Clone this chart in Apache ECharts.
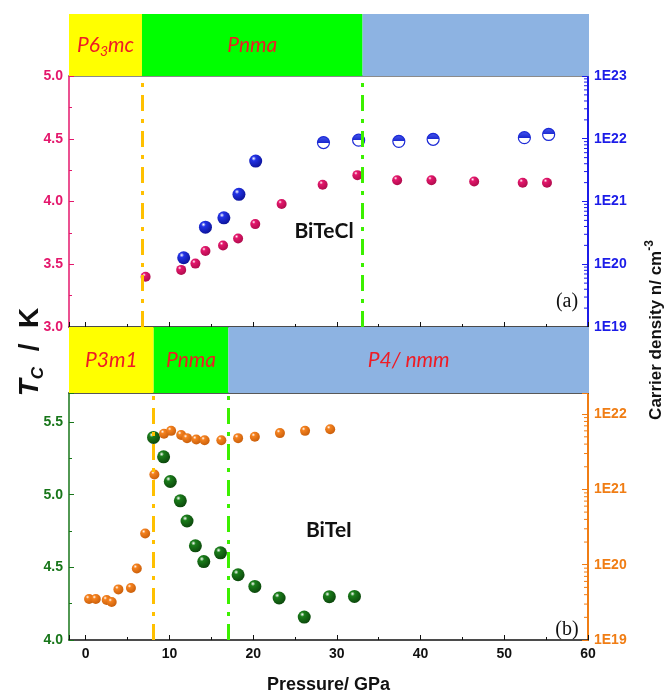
<!DOCTYPE html>
<html>
<head>
<meta charset="utf-8">
<script src="https://cdn.jsdelivr.net/npm/echarts@6/dist/echarts.min.js"></script>
<style>
html, body { margin: 0; padding: 0; background: #fff; }
#main { width: 668px; height: 695px; }
</style>
</head>
<body>
<div id="main"></div>
<script>
var chartDom = document.getElementById('main');
var myChart = echarts.init(chartDom);

// (a) BiTeCl
var clTcP = [7.15, 11.4, 13.1, 14.3, 16.4, 18.2, 20.25, 23.4, 28.3, 32.45, 37.2, 41.3, 46.4, 52.2, 55.1];
var clTc = [3.40, 3.455, 3.505, 3.605, 3.65, 3.705, 3.82, 3.98, 4.134, 4.21, 4.17, 4.17, 4.16, 4.15, 4.15];
var clNP = [11.7, 14.3, 16.5, 18.3, 20.3]; // 实心点
var clN = [1.27e20, 3.9e20, 5.5e20, 1.3e21, 4.4e21];
var clNHalfP = [28.4, 32.6, 37.4, 41.5, 52.4, 55.3]; // 半填充点
var clNHalf = [8.7e21, 9.5e21, 9.1e21, 9.8e21, 1.04e22, 1.17e22];
var clPhaseEdges = [-2, 6.7, 33, 60];
var clPhaseNames = ['{i|P6}{s|3}{i|mc}', '{i|Pnma}', ''];
var clLines = [6.7, 33];

// (b) BiTeI
var iTcP = [8.1, 9.3, 10.1, 11.3, 12.1, 13.1, 14.1, 16.1, 18.2, 20.2, 23.1, 26.1, 29.1, 32.1];
var iTc = [5.394, 5.261, 5.091, 4.958, 4.819, 4.648, 4.54, 4.6, 4.449, 4.369, 4.289, 4.158, 4.298, 4.30];
var iNP = [0.4, 1.2, 2.5, 3.1, 3.9, 5.4, 6.1, 7.1, 8.2, 9.35, 10.2, 11.4, 12.1, 13.2, 14.2, 16.2, 18.2, 20.2, 23.2, 26.2, 29.2];
var iN = [3.5e19, 3.5e19, 3.4e19, 3.2e19, 4.7e19, 4.9e19, 8.9e19, 2.6e20, 1.58e21, 5.5e21, 6.0e21, 5.3e21, 4.8e21,
    4.6e21, 4.5e21, 4.5e21, 4.8e21, 5.0e21, 5.6e21, 6.0e21, 6.3e21];
var iPhaseEdges = [-2, 8.1, 17, 60];
var iPhaseNames = ['{i|P3m1}', '{i|Pnma}', '{i|P4/ nmm}'];
var iLines = [8.1, 17];

var phaseColors = ['#ffff00', '#00ff00', '#8db3e2'];
var lineColors = ['#ffc000', '#3cf000'];

var pink = '#e4176c', blue = '#1c1ce8', green = '#18761a', orange = '#f07d14';

function zip(xs, ys) { //合并为点
    return xs.map(function(x, i) { return [x, ys[i]]; });
}

function ball(base, dark) { //球形渐变
    return {
        type: 'radial', x: 0.35, y: 0.3, r: 0.8,
        colorStops: [{ offset: 0, color: '#ffffff' }, { offset: 0.22, color: base }, { offset: 1, color: dark }]
    };
}

function phaseAreas(edges, names) { //相区色块
    var res = [];
    for (var i = 0; i < names.length; i++) {
        res.push([{
            xAxis: edges[i],
            itemStyle: { color: phaseColors[i] },
            label: { formatter: names[i] || ' ' }
        }, { xAxis: edges[i + 1] }]);
    }
    return res;
}

function transLines(xs) { //相变虚线
    return xs.map(function(x, i) {
        return { xAxis: x, lineStyle: { color: lineColors[i] } };
    });
}

function logMinor(maxV) { //对数次刻度
    var out = [];
    for (var d = 19; d < 23; d++) {
        for (var k = 2; k < 10; k++) {
            var v = k * Math.pow(10, d);
            if (v < maxV) out.push([60, v]);
        }
    }
    return out;
}

function minorSeries(xi, yi, maxV, color) {
    return {
        type: 'custom', xAxisIndex: xi, yAxisIndex: yi, silent: true, z: 5,
        data: logMinor(maxV),
        renderItem: function(params, api) {
            var p = api.coord([api.value(0), api.value(1)]);
            return {
                type: 'line',
                shape: { x1: p[0] - 4, y1: p[1], x2: p[0], y2: p[1] },
                style: { stroke: color, lineWidth: 1 }
            };
        }
    };
}

function expLabel(v) {
    var e = Math.log10(v);
    if (Math.abs(e - Math.round(e)) > 0.01) return '';
    return '1E' + Math.round(e);
}

var tickFont = { fontFamily: 'Liberation Sans', fontWeight: 'bold', fontSize: 14 };
var phaseRich = {
    i: { fontFamily: 'Lato', fontStyle: 'italic', fontSize: 21, color: '#ee1c25', lineHeight: 26 },
    s: { fontFamily: 'Lato', fontStyle: 'italic', fontSize: 14, color: '#ee1c25', lineHeight: 14, verticalAlign: 'bottom' }
};

function leftAxis(grid, color, min, max) {
    return {
        type: 'value', gridIndex: grid, position: 'left', min: min, max: max, interval: 0.5,
        axisLine: { show: true, onZero: false, lineStyle: { color: color, width: 1.5 } },
        axisTick: { inside: true, length: 5, lineStyle: { color: color } },
        minorTick: { show: true, splitNumber: 2, length: 3, lineStyle: { color: color } },
        splitLine: { show: false },
        axisLabel: Object.assign({ color: color, margin: 6, showMaxLabel: max === 5, formatter: function(v) { return v.toFixed(1); } }, tickFont)
    };
}

function rightAxis(grid, color, max) {
    return {
        type: 'log', logBase: 10, gridIndex: grid, position: 'right', min: 1e19, max: max,
        axisLine: { show: true, onZero: false, lineStyle: { color: color, width: 2 } },
        axisTick: { inside: true, length: 6, lineStyle: { color: color } },
        splitLine: { show: false },
        axisLabel: Object.assign({ color: color, margin: 6, formatter: expLabel }, tickFont)
    };
}

function bottomAxis(grid, showLabel) {
    return {
        type: 'value', gridIndex: grid, position: 'bottom', min: -2, max: 60,
        axisLine: { show: true, onZero: false, lineStyle: { color: '#111', width: 1.5 } },
        axisTick: { inside: true, length: 5, lineStyle: { color: '#111' } },
        minorTick: { show: true, splitNumber: 2, length: 3, lineStyle: { color: '#111' } },
        splitLine: { show: false },
        axisLabel: Object.assign({ show: showLabel, color: '#111', margin: 7, showMinLabel: false }, tickFont),
        name: showLabel ? 'Pressure/ GPa' : '',
        nameLocation: 'middle', nameGap: 36,
        nameTextStyle: { fontFamily: 'Liberation Sans', fontWeight: 'bold', fontSize: 18, color: '#111' }
    };
}

function topAxis(grid, color) {
    return {
        type: 'value', gridIndex: grid, position: 'top', min: -2, max: 60,
        axisLine: { show: true, onZero: false, lineStyle: { color: color, width: 1.5 } },
        axisTick: { show: false }, axisLabel: { show: false }, splitLine: { show: false }
    };
}

function hiddenX(grid) {
    return { type: 'value', gridIndex: grid, min: -2, max: 60, show: false };
}

function hiddenY(grid) {
    return { type: 'value', gridIndex: grid, min: 0, max: 1, show: false };
}

var option = {
    animation: false,
    grid: [
        { left: 69, right: 80, top: 76, height: 251 },
        { left: 69, right: 80, top: 393, height: 256 },
        { left: 69, right: 79, top: 14, height: 62 },
        { left: 69, right: 79, top: 327, height: 66 }
    ],
    xAxis: [
        bottomAxis(0, false), topAxis(0, '#666'),
        bottomAxis(1, true), topAxis(1, '#222'),
        hiddenX(2), hiddenX(3)
    ],
    yAxis: [
        leftAxis(0, pink, 3, 5), rightAxis(0, blue, 1e23),
        leftAxis(1, green, 4, 5.7), rightAxis(1, orange, 1.91e22),
        hiddenY(2), hiddenY(3)
    ],
    series: [
        { // 相区 (a)
            type: 'scatter', xAxisIndex: 4, yAxisIndex: 4, data: [], silent: true,
            markArea: { silent: true, label: { position: 'inside', rich: phaseRich }, data: phaseAreas(clPhaseEdges, clPhaseNames) }
        },
        { // 相区 (b)
            type: 'scatter', xAxisIndex: 5, yAxisIndex: 5, data: [], silent: true,
            markArea: { silent: true, label: { position: 'inside', rich: phaseRich }, data: phaseAreas(iPhaseEdges, iPhaseNames) }
        },
        { // 相变线 (a)
            type: 'scatter', xAxisIndex: 0, yAxisIndex: 0, data: [], z: 1, silent: true,
            markLine: { symbol: 'none', silent: true, label: { show: false }, lineStyle: { width: 3, type: [16, 8, 4, 8], opacity: 1 }, data: transLines(clLines) }
        },
        { // 相变线 (b)
            type: 'scatter', xAxisIndex: 2, yAxisIndex: 2, data: [], z: 1, silent: true,
            markLine: { symbol: 'none', silent: true, label: { show: false }, lineStyle: { width: 3, type: [16, 8, 4, 8], opacity: 1 }, data: transLines(iLines) }
        },
        {
            name: 'BiTeCl Tc', type: 'scatter', xAxisIndex: 0, yAxisIndex: 0, z: 3,
            symbolSize: 10, itemStyle: { color: ball(pink, '#a80a48'), opacity: 1 },
            data: zip(clTcP, clTc)
        },
        {
            name: 'BiTeCl n', type: 'scatter', xAxisIndex: 0, yAxisIndex: 1, z: 3,
            symbolSize: 13, itemStyle: { color: ball('#2233e6', '#0a0f90'), opacity: 1 },
            data: zip(clNP, clN)
        },
        {
            name: 'BiTeCl n half', type: 'scatter', xAxisIndex: 0, yAxisIndex: 1, z: 3,
            symbolSize: 12,
            itemStyle: {
                opacity: 1, borderColor: '#1c2ad6', borderWidth: 1.2,
                color: {
                    type: 'linear', x: 0, y: 0, x2: 0, y2: 1,
                    colorStops: [{ offset: 0, color: '#4a5cf0' }, { offset: 0.5, color: '#1a28d0' }, { offset: 0.5, color: '#ffffff' }, { offset: 1, color: '#ffffff' }]
                }
            },
            data: zip(clNHalfP, clNHalf)
        },
        {
            name: 'BiTeI Tc', type: 'scatter', xAxisIndex: 2, yAxisIndex: 2, z: 3,
            symbolSize: 13, itemStyle: { color: ball('#1a7d1a', '#0a400a'), opacity: 1 },
            data: zip(iTcP, iTc)
        },
        {
            name: 'BiTeI n', type: 'scatter', xAxisIndex: 2, yAxisIndex: 3, z: 3,
            symbolSize: 10, itemStyle: { color: ball('#f5821f', '#c45a08'), opacity: 1 },
            data: zip(iNP, iN)
        },
        minorSeries(0, 1, 1e23, blue),
        minorSeries(2, 3, 1.91e22, orange)
    ],
    graphic: [
        { type: 'text', x: 324, y: 231, style: { text: 'BiTeCl', font: 'bold 21px Lato', fill: '#111', align: 'center', verticalAlign: 'middle' } },
        { type: 'text', x: 329, y: 530, style: { text: 'BiTeI', font: 'bold 21px Lato', fill: '#111', align: 'center', verticalAlign: 'middle' } },
        { type: 'text', x: 567, y: 302, style: { text: '(a)', font: '20px "Liberation Serif"', fill: '#111', align: 'center', verticalAlign: 'middle' } },
        { type: 'text', x: 567, y: 630, style: { text: '(b)', font: '20px "Liberation Serif"', fill: '#111', align: 'center', verticalAlign: 'middle' } },
        {
            type: 'text', x: 30, y: 352, rotation: Math.PI / 2,
            style: {
                text: '{t|T}{c|C}{n|  /  K}', align: 'center', verticalAlign: 'middle', fill: '#111',
                rich: {
                    t: { fontFamily: 'Liberation Sans', fontWeight: 'bold', fontStyle: 'italic', fontSize: 28, lineHeight: 34 },
                    c: { fontFamily: 'Liberation Sans', fontWeight: 'bold', fontStyle: 'italic', fontSize: 17, lineHeight: 20, verticalAlign: 'bottom' },
                    n: { fontFamily: 'Liberation Sans', fontWeight: 'bold', fontSize: 28, lineHeight: 34 }
                }
            }
        },
        {
            type: 'text', x: 656, y: 330, rotation: Math.PI / 2,
            style: {
                text: '{n|Carrier density n/ cm}{s|-3}', align: 'center', verticalAlign: 'middle', fill: '#111',
                rich: {
                    n: { fontFamily: 'Liberation Sans', fontWeight: 'bold', fontSize: 17, lineHeight: 24 },
                    s: { fontFamily: 'Liberation Sans', fontWeight: 'bold', fontSize: 12, lineHeight: 12, verticalAlign: 'top' }
                }
            }
        }
    ]
};

option && myChart.setOption(option);
</script>
</body>
</html>
